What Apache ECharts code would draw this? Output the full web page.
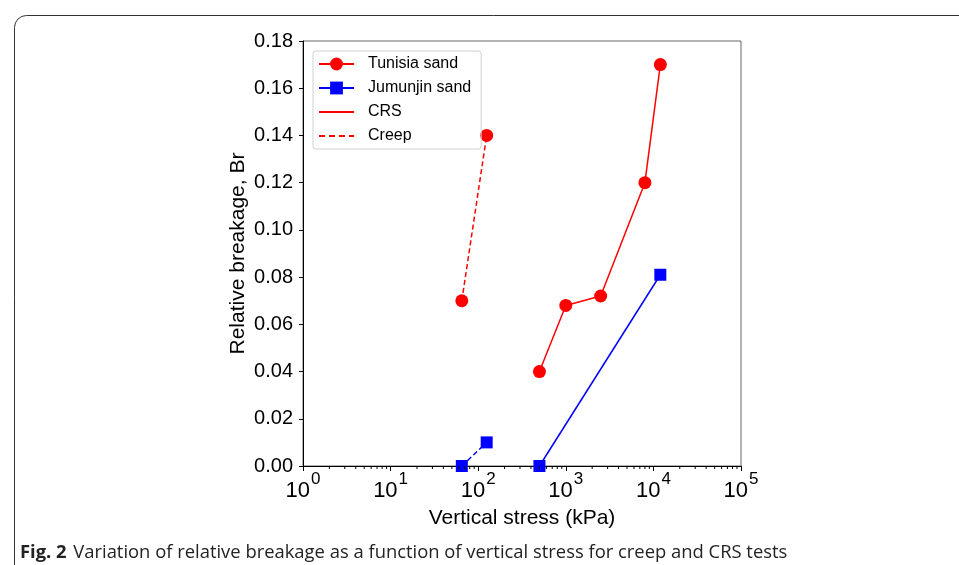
<!DOCTYPE html>
<html>
<head>
<meta charset="utf-8">
<script src="https://cdn.jsdelivr.net/npm/echarts@6/dist/echarts.min.js"></script>
<style>
  html, body { margin: 0; padding: 0; background: #fff; }
  #main { width: 959px; height: 565px; }
</style>
</head>
<body>
<div id="main"></div>
<script>
// data: [vertical stress kPa, relative breakage]
var tunisiaCRS = [[500, 0.040], [1000, 0.068], [2500, 0.072], [8000, 0.120], [12000, 0.170]];
var tunisiaCreep = [[65, 0.070], [125, 0.140]];
var jumunjinCRS = [[500, 0.000], [12000, 0.081]];
var jumunjinCreep = [[65, 0.000], [125, 0.010]];
var yTicks = [0, 0.02, 0.04, 0.06, 0.08, 0.10, 0.12, 0.14, 0.16, 0.18];

// minor ticks of the log axis (2..9 in each decade)
var minorTicks = [];
for (var d = 1; d < 100000; d *= 10) {
  for (var k = 2; k <= 9; k++) minorTicks.push([k * d, 0]);
}

var chart = echarts.init(document.getElementById('main'));
var font = 'Liberation Sans';

var option = {
  backgroundColor: '#fff',
  animation: false,
  grid: {
    left: 303, right: 218, top: 41, bottom: 99,
    show: true, borderColor: '#666', borderWidth: 1
  },
  legend: {
    orient: 'vertical',
    left: 313, top: 51,
    padding: [5, 10, 5, 5],
    itemWidth: 35, itemHeight: 16, itemGap: 8,
    borderColor: '#d0d0d0', borderWidth: 1, borderRadius: 3,
    selectedMode: false,
    textStyle: { fontFamily: font, fontSize: 16, lineHeight: 16, color: '#000', padding: [0, 0, 0, 9] },
    data: [
      'Tunisia sand',
      'Jumunjin sand',
      { name: 'CRS', itemStyle: { opacity: 0 } },
      { name: 'Creep', itemStyle: { opacity: 0 } }
    ]
  },
  xAxis: {
    type: 'log', logBase: 10, min: 1, max: 100000,
    name: 'Vertical stress (kPa)', nameLocation: 'middle', nameGap: 42,
    nameTextStyle: { fontFamily: font, fontSize: 21, color: '#000' },
    axisLine: { lineStyle: { color: '#000', width: 1 } },
    axisTick: { length: 5, lineStyle: { color: '#000' } },
    splitLine: { show: false },
    axisLabel: {
      margin: 5,
      formatter: function (v) {
        return '{b|10}{s|' + Math.round(Math.log10(v)) + '}';
      },
      rich: {
        b: { fontFamily: font, fontSize: 22, color: '#000', padding: [9, 0, 0, 0] },
        s: { fontFamily: font, fontSize: 17, color: '#000', verticalAlign: 'top', padding: [0, 0, 0, 1] }
      }
    }
  },
  yAxis: {
    type: 'value', min: 0, max: 0.18, interval: 0.02,
    name: 'Relative breakage, Br', nameLocation: 'middle', nameGap: 54, nameRotate: 90,
    nameTextStyle: { fontFamily: font, fontSize: 21, color: '#000' },
    axisLine: { show: true, lineStyle: { color: '#000', width: 1 } },
    axisTick: { show: true, length: 4, lineStyle: { color: '#000' } },
    splitLine: { show: false },
    axisLabel: {
      margin: 10, fontFamily: font, fontSize: 20, color: '#000',
      formatter: function (v) {
        for (var i = 0; i < yTicks.length; i++) {
          if (Math.abs(yTicks[i] - v) < 1e-9) return yTicks[i].toFixed(2);
        }
        return '';
      }
    }
  },
  series: [
    {
      name: 'Tunisia sand', type: 'line', data: tunisiaCRS,
      symbol: 'circle', symbolSize: 13,
      itemStyle: { color: '#ff0000' }, lineStyle: { color: '#ff0000', width: 1.5 }
    },
    {
      name: 'Jumunjin sand', type: 'line', data: jumunjinCRS,
      symbol: 'rect', symbolSize: 12,
      itemStyle: { color: '#0000ff' }, lineStyle: { color: '#0000ff', width: 1.5 }
    },
    {
      name: 'CRS', type: 'line', data: [], symbol: 'none',
      itemStyle: { color: '#ff0000' }, lineStyle: { color: '#ff0000', width: 1.5 }
    },
    {
      name: 'Creep', type: 'line', data: [], symbol: 'none',
      itemStyle: { color: '#ff0000' }, lineStyle: { color: '#ff0000', width: 1.5, type: [6, 4] }
    },
    {
      name: 'Tunisia creep', type: 'line', data: tunisiaCreep,
      symbol: 'circle', symbolSize: 13,
      itemStyle: { color: '#ff0000' }, lineStyle: { color: '#ff0000', width: 1.5, type: [5, 3] }
    },
    {
      name: 'Jumunjin creep', type: 'line', data: jumunjinCreep,
      symbol: 'rect', symbolSize: 12,
      itemStyle: { color: '#0000ff' }, lineStyle: { color: '#0000ff', width: 1.5, type: [5, 3] }
    },
    {
      name: 'minor', type: 'custom', data: minorTicks, clip: false, silent: true, z: 10,
      renderItem: function (params, api) {
        var p = api.coord([api.value(0), 0]);
        return {
          type: 'line',
          shape: { x1: p[0], y1: p[1], x2: p[0], y2: p[1] + 3 },
          style: { stroke: '#000', lineWidth: 1 }
        };
      }
    }
  ],
  graphic: [
    {
      type: 'rect', left: 12, top: 13, silent: true, z: -10,
      shape: { width: 1000, height: 600, r: 12 },
      style: { fill: 'none', stroke: '#333', lineWidth: 1 }
    },
    {
      type: 'text', left: 20, top: 544, silent: true,
      style: {
        text: '{b|Fig. 2}  {n|Variation of relative breakage as a function of vertical stress for creep and CRS tests}',
        rich: {
          b: { fontFamily: 'Open Sans', fontWeight: 'bold', fontSize: 18.4, fill: '#222' },
          n: { fontFamily: 'Open Sans', fontSize: 18.4, fill: '#222' }
        }
      }
    }
  ]
};

chart.setOption(option);
</script>
</body>
</html>
